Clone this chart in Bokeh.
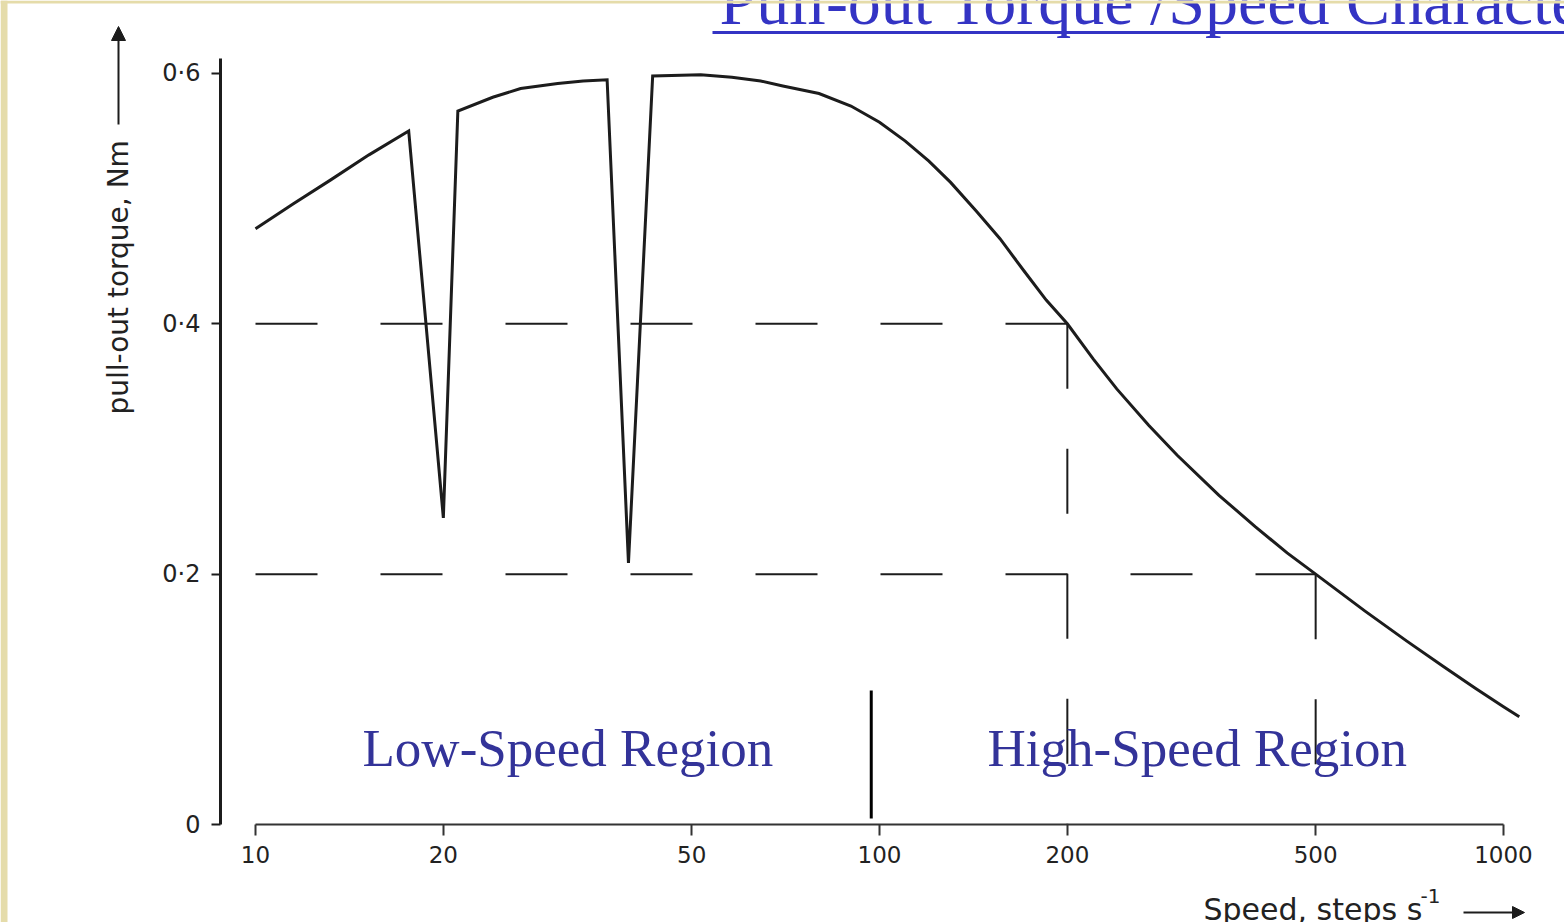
import math
from bokeh.plotting import figure
from bokeh.models import (Range1d, FixedTicker, CustomJSTickFormatter, Label,
                          Arrow, NormalHead, BoxAnnotation)
from bokeh.embed import file_html
from bokeh.resources import INLINE

# ---------------- data ----------------
speed = [10, 11.5, 13.2, 15.2, 17.6, 20.0, 21.1, 24, 26.6, 30.5, 33.5, 36.6, 39.6,
         43.3, 51.7, 58, 64.5, 70, 80, 90, 100, 110, 120, 130, 143, 156, 170, 185,
         200, 220, 240, 270, 300, 350, 400, 450, 500, 600, 700, 800, 900, 1000, 1060]
torque = [0.476, 0.496, 0.515, 0.535, 0.554, 0.245, 0.570, 0.581, 0.588, 0.592, 0.594,
          0.595, 0.209, 0.598, 0.599, 0.597, 0.594, 0.590, 0.584, 0.574, 0.561, 0.546,
          0.530, 0.513, 0.490, 0.468, 0.443, 0.419, 0.400, 0.372, 0.348, 0.319, 0.295,
          0.263, 0.238, 0.217, 0.200, 0.1705, 0.1465, 0.1264, 0.1091, 0.0940, 0.0860]

guide_speeds = [200, 500]
guide_torques = [0.4, 0.2]
region_boundary = 97

x_ticks = [10, 20, 50, 100, 200, 500, 1000]
y_ticks = [0, 0.2, 0.4, 0.6]

# ---------------- geometry helpers (canvas px -> data) ----------------
W, H = 1564, 922
ZERO_ROW = 824          # canvas row of torque 0
TEN_COL = 255           # canvas column of speed 10
PX_PER_DECADE = 624.0
PX_PER_UNIT = 1251.7


def sx(px):
    return 10 ** (1 + (px - TEN_COL) / PX_PER_DECADE)


def sy(py):
    return (ZERO_ROW - py) / PX_PER_UNIT


p = figure(width=W, height=H, x_axis_type="log",
           x_range=Range1d(sx(0), sx(W)), y_range=Range1d(sy(H), sy(0)),
           min_border_left=0, min_border_right=0, min_border_top=0,
           min_border_bottom=0,
           output_backend="svg", toolbar_location=None)
p.outline_line_color = None
p.background_fill_color = "white"
p.border_fill_color = "white"
p.xgrid.grid_line_color = None
p.ygrid.grid_line_color = None

ink = "#1c1c1c"
label_ink = "#222222"

# axes (drawn inside the canvas at fixed data locations)
xa = p.xaxis[0]
xa.fixed_location = 0
xa.ticker = FixedTicker(ticks=x_ticks)
xa.formatter = CustomJSTickFormatter(code="return Math.round(tick).toString();")
xa.bounds = (10, 1000)
xa.axis_line_width = 2
xa.axis_line_color = "#333333"
xa.major_tick_in = 0
xa.major_tick_out = 11
xa.major_tick_line_width = 2
xa.major_tick_line_color = "#333333"
xa.minor_tick_line_color = None
xa.major_label_standoff = 10
xa.major_label_text_font = "DejaVu Sans"
xa.major_label_text_font_size = "23px"
xa.major_label_text_color = label_ink

ya = p.yaxis[0]
ya.fixed_location = sx(220)
ya.ticker = FixedTicker(ticks=y_ticks)
ya.formatter = CustomJSTickFormatter(
    code="return tick == 0 ? '0' : tick.toFixed(1).replace('.', '\u00b7');")
ya.bounds = (0, 0.612)
ya.axis_line_width = 3
ya.axis_line_color = ink
ya.major_tick_in = 0
ya.major_tick_out = 9
ya.major_tick_line_width = 2
ya.major_tick_line_color = ink
ya.minor_tick_line_color = None
ya.major_label_standoff = 11
ya.major_label_text_font = "DejaVu Sans"
ya.major_label_text_font_size = "24px"
ya.major_label_text_color = label_ink

# dashed guide lines
for gs, gt in zip(guide_speeds, guide_torques):
    p.line([10, gs], [gt, gt], line_color=ink, line_width=2, line_dash="62 63")
    p.line([gs, gs], [gt, 0], line_color=ink, line_width=2, line_dash="65 60")

# main curve
p.line(speed, torque, line_color=ink, line_width=3, line_join="miter")

# region boundary
p.segment(x0=[region_boundary], y0=[sy(818)], x1=[region_boundary], y1=[sy(690)],
          line_color="black", line_width=3)

region_color = "#333399"
p.add_layout(Label(x=sx(362), y=sy(747), text="Low-Speed Region",
                   text_font="Liberation Serif", text_font_size="53px",
                   text_color=region_color, text_baseline="alphabetic"))
p.add_layout(Label(x=sx(987), y=sy(747), text="High-Speed Region",
                   text_font="Liberation Serif", text_font_size="53px",
                   text_color=region_color, text_baseline="alphabetic"))

# title (partly cut by the top edge) with underline
title_color = "#3434C4"
p.add_layout(Label(x=sx(719), y=sy(1), text="Pull-out Torque /Speed Characteristics",
                   text_font="Liberation Serif", text_font_size="66px",
                   text_color=title_color, text_baseline="alphabetic"))
p.segment(x0=[sx(712)], y0=[sy(32)], x1=[sx(W)], y1=[sy(32)],
          line_color=title_color, line_width=3)

# y axis title with arrow
p.add_layout(Label(x=sx(118), y=sy(414), text="pull-out torque, Nm", angle=math.pi / 2,
                   text_font="DejaVu Sans", text_font_size="28px",
                   text_color=label_ink, text_align="left", text_baseline="middle"))
p.add_layout(Arrow(end=NormalHead(size=14, fill_color=ink, line_color=ink),
                   x_start=sx(118), y_start=sy(124), x_end=sx(118), y_end=sy(26),
                   line_color=ink, line_width=2))

# x axis title with arrow (partly cut by the bottom edge, as in the source)
p.add_layout(Label(x=sx(1203), y=sy(909), text="Speed, steps s",
                   text_font="DejaVu Sans", text_font_size="30px",
                   text_color=label_ink, text_baseline="alphabetic"))
p.add_layout(Label(x=sx(1420), y=sy(895), text="-1",
                   text_font="DejaVu Sans", text_font_size="20px",
                   text_color=label_ink, text_baseline="alphabetic"))
p.add_layout(Arrow(end=NormalHead(size=12, fill_color=ink, line_color=ink),
                   x_start=sx(1463), y_start=sy(912), x_end=sx(1524), y_end=sy(912),
                   line_color=ink, line_width=2))

# slide frame strips
beige = "#E5DCAA"
p.add_layout(BoxAnnotation(left=sx(0), right=sx(7), bottom=sy(H), top=sy(0),
                           fill_color=beige, fill_alpha=1, line_color=None))
p.add_layout(BoxAnnotation(left=sx(0), right=sx(W), bottom=sy(3), top=sy(0),
                           fill_color=beige, fill_alpha=1, line_color=None))

with open("out.html", "w", encoding="utf-8") as f:
    f.write(file_html(p, INLINE))
